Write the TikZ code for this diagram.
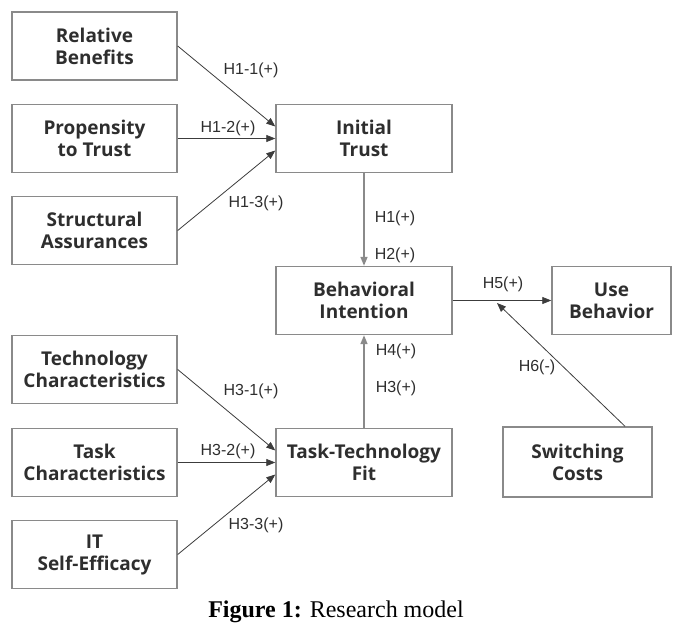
\documentclass[tikz,border=0pt]{standalone}
\usepackage{fontspec}
\setmainfont{Liberation Serif}
\newfontfamily\boxfont{Open Sans}
\newfontfamily\labelfont{Liberation Sans}
\usetikzlibrary{arrows.meta,calc}
\definecolor{boxgray}{HTML}{8A8A8A}
\definecolor{linegray}{HTML}{3C3C3C}
\definecolor{textgray}{HTML}{2E2E2E}
\begin{document}
\begin{tikzpicture}[x=1pt,y=-1pt,
		construct/.style={draw=boxgray, line width=1.4pt, text=textgray, align=center,
			minimum width=165pt, minimum height=68pt, inner sep=0pt,
			font=\boxfont\bfseries\fontsize{19}{22}\selectfont},
		path/.style={draw=linegray, line width=0.8pt, -{Triangle[length=9pt,width=7pt]}},
		mainpath/.style={draw=boxgray, line width=1.6pt, -{Triangle[length=9pt,width=7pt]}},
		hyp/.style={text=textgray, inner sep=0pt, font=\labelfont\fontsize{16}{18}\selectfont}]
	\useasboundingbox (0,0) rectangle (685,642);
	
	% Constructs
	\node[construct] (benefits) at (94.5,46) {Relative\\Benefits};
	\node[construct] (propensity) at (94.5,138.5) {Propensity\\to Trust};
	\node[construct] (assurance) at (94.5,230.5) {Structural\\Assurances};
	\node[construct, minimum width=176pt] (trust) at (364,138.5) {Initial\\Trust};
	\node[construct, minimum width=176pt] (intention) at (364,300.5) {Behavioral\\Intention};
	\node[construct, minimum width=119pt] (use) at (611.5,300.5) {Use\\Behavior};
	\node[construct] (techchar) at (94.5,369.5) {Technology\\Characteristics};
	\node[construct] (taskchar) at (94.5,462.5) {Task\\Characteristics};
	\node[construct] (efficacy) at (94.5,554.5) {IT\\Self-Efficacy};
	\node[construct, minimum width=176pt] (ttf) at (364,462.5) {Task-Technology\\Fit};
	\node[construct, minimum width=149pt, minimum height=70pt] (switching) at (577.5,462) {Switching\\Costs};
	
	% Paths
	\draw[path] (benefits.east) -- ($(trust.west)+(0,-12)$);
	\draw[path] (propensity.east) -- (trust.west);
	\draw[path] (assurance.east) -- ($(trust.west)+(0,12)$);
	\draw[path] (techchar.east) -- ($(ttf.west)+(0,-12)$);
	\draw[path] (taskchar.east) -- (ttf.west);
	\draw[path] (efficacy.east) -- ($(ttf.west)+(0,12)$);
	\draw[mainpath] (trust.south) -- (intention.north);
	\draw[mainpath] (ttf.north) -- (intention.south);
	\draw[path] (intention.east) -- (use.west);
	\coordinate (moderate) at (497,303);
	\draw[path] ($(switching.north)+(47.5,0)$) -- (moderate);
	
	% Hypotheses
	\node[hyp] (h11) at (251,70) {H1-1(+)};
	\node[hyp] (h12) at (228,128) {H1-2(+)};
	\node[hyp] (h13) at (256,203) {H1-3(+)};
	\node[hyp] (h1) at (395,218) {H1(+)};
	\node[hyp] (h2) at (395,255) {H2(+)};
	\node[hyp] (h5) at (503,284) {H5(+)};
	\node[hyp] (h4) at (396,351) {H4(+)};
	\node[hyp] (h3) at (396,388) {H3(+)};
	\node[hyp] (h31) at (251,391) {H3-1(+)};
	\node[hyp] (h32) at (228,451) {H3-2(+)};
	\node[hyp] (h33) at (256,525) {H3-3(+)};
	\node[hyp] (h6) at (537,367) {H6(-)};
	
	% Caption
	\node[font=\fontsize{24}{28}\selectfont, inner sep=0pt] (caption) at (336,612) {\textbf{Figure 1:} Research model};
\end{tikzpicture}
\end{document}
